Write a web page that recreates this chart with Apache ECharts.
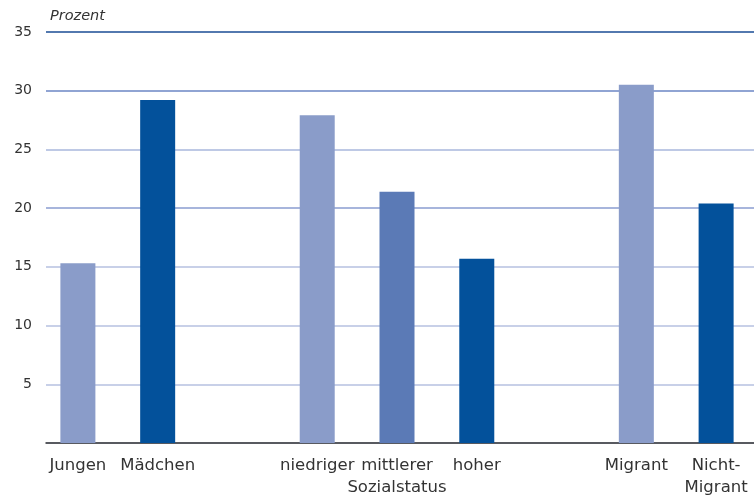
<!DOCTYPE html>
<html>
<head>
<meta charset="utf-8">
<script src="https://cdn.jsdelivr.net/npm/echarts@6/dist/echarts.min.js"></script>
<style>
html,body{margin:0;padding:0;background:#fff;}
#c{width:754px;height:495px;}
</style>
</head>
<body>
<div id="c"></div>
<script>
const categories = ['Jungen', 'Mädchen', '', 'niedriger', 'mittlerer\nSozialstatus', 'hoher', '', 'Migrant', 'Nicht-\nMigrant'];
const values = [15.3, 29.2, null, 27.9, 21.4, 15.7, null, 30.5, 20.4];
const barColors = ['#8a9cc9', '#03519b', null, '#8a9cc9', '#5b7ab6', '#03519b', null, '#8a9cc9', '#03519b'];
const yTicks = [0, 5, 10, 15, 20, 25, 30, 35];
const yTitle = 'Prozent';

const chart = echarts.init(document.getElementById('c'));
const font = 'DejaVu Sans';
chart.setOption({
  animation: false,
  title: {
    text: yTitle, left: 45, top: 4,
    textStyle: { fontFamily: font, fontSize: 14.5, fontStyle: 'italic', fontWeight: 'normal', color: '#333' }
  },
  grid: [
    { left: 46, right: 0, top: 32, bottom: 52, containLabel: false, outerBoundsMode: 'none' },
    { left: 38, right: -2, top: 32, bottom: 52, containLabel: false, outerBoundsMode: 'none' }
  ],
  xAxis: [
    { type: 'category', gridIndex: 0, data: categories, axisTick: { show: false }, axisLabel: { show: false },
      axisLine: { lineStyle: { color: '#333', width: 1.5 } } },
    { type: 'category', gridIndex: 1, data: categories, axisTick: { show: false }, axisLine: { show: false },
      axisLabel: { interval: 0, margin: 12, fontFamily: font, fontSize: 16.5, lineHeight: 22, color: '#333' } }
  ],
  yAxis: [
    { type: 'value', gridIndex: 0, min: yTicks[0], max: yTicks[yTicks.length - 1], interval: 5,
      axisLine: { show: false }, axisTick: { show: false },
      axisLabel: { margin: 14, fontFamily: font, fontSize: 14, color: '#333', formatter: v => v === 0 ? '' : String(v) },
      splitLine: { lineStyle: { width: 1.5, color: ['#b6c1e0', '#b6c1e0', '#b6c1e0', '#b6c1e0', '#8a9dd0', '#a9b7dc', '#6b86c4', '#1a4d94'] } } },
    { type: 'value', gridIndex: 1, min: yTicks[0], max: yTicks[yTicks.length - 1], interval: 5, show: false, splitLine: { show: false } }
  ],
  series: [{
    type: 'bar', xAxisIndex: 1, yAxisIndex: 1, barWidth: 35,
    data: values.map((v, i) => ({ value: v, itemStyle: { color: barColors[i] } }))
  }]
});
</script>
</body>
</html>
